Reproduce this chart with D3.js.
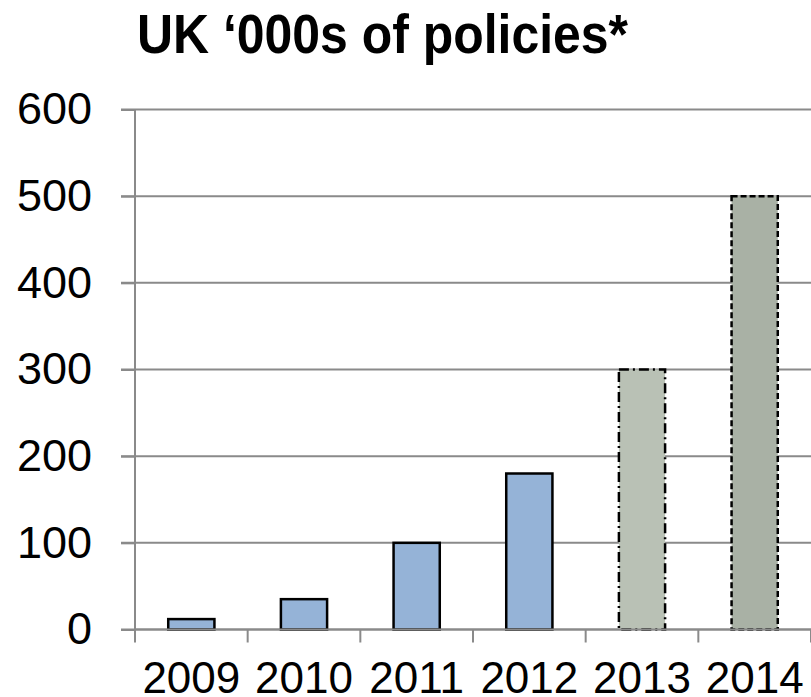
<!DOCTYPE html>
<html><head><meta charset="utf-8">
<script src="https://cdn.jsdelivr.net/npm/d3@7"></script>
<style>body{margin:0;background:#fff}svg{display:block}</style>
</head><body>
<svg id="c" width="811" height="697"></svg>
<script>
const title = "UK \u2018000s of policies*";
const categories = ["2009","2010","2011","2012","2013","2014"];
const values = [12, 35, 100, 180, 300, 500];
const yTicks = [0,100,200,300,400,500,600];
const fills = ["#95b3d7","#95b3d7","#95b3d7","#95b3d7","#b9c1b5","#a9b1a5"];
const dashes = [null,null,null,null,"10,4,2,4","6,3"];

const svg = d3.select("#c");
const pLeft = 135, pRight = 811, pTop = 109.5, pBottom = 629.5;
const x = d3.scaleBand().domain(categories).range([pLeft, pRight]).paddingInner(0.59).paddingOuter(0.295);
const y = d3.scaleLinear().domain([0,600]).range([pBottom, pTop]);
const font = "'Liberation Sans', Arial, sans-serif";
const grey = "#8a8a8a";

// gridlines
svg.append("g").selectAll("line").data(yTicks).join("line")
  .attr("x1", pLeft - 14).attr("x2", pRight)
  .attr("y1", d => y(d)).attr("y2", d => y(d))
  .attr("stroke", grey).attr("stroke-width", 2);

// y axis
const ya = svg.append("g").attr("transform", `translate(${pLeft},0)`)
  .call(d3.axisLeft(y).tickValues(yTicks).tickSize(14).tickPadding(29).tickFormat(d3.format("d")));
ya.select(".domain").attr("stroke", grey).attr("stroke-width", 2).attr("d", `M0,${pTop}V${pBottom}`);
ya.selectAll(".tick line").attr("stroke", grey).attr("stroke-width", 2);
ya.selectAll("text").attr("font-family", font).attr("font-size", 45).attr("fill", "#000");

// bars
svg.append("g").selectAll("rect").data(values).join("rect")
  .attr("x", (d,i) => x(categories[i]))
  .attr("width", x.bandwidth())
  .attr("y", d => y(d))
  .attr("height", d => y(0) - y(d))
  .attr("fill", (d,i) => fills[i])
  .attr("stroke", "#000").attr("stroke-width", 2.5)
  .attr("stroke-dasharray", (d,i) => dashes[i]);

// x axis
const xa = svg.append("g").attr("transform", `translate(0,${pBottom})`)
  .call(d3.axisBottom(x).tickSize(0).tickPadding(32));
xa.select(".domain").remove();
xa.selectAll("text").attr("font-family", font).attr("font-size", 44).attr("fill", "#000");
const step = x.step();
svg.append("g").selectAll("line").data(d3.range(categories.length + 1)).join("line")
  .attr("x1", i => pLeft + i * step).attr("x2", i => pLeft + i * step)
  .attr("y1", pBottom).attr("y2", pBottom + 13)
  .attr("stroke", grey).attr("stroke-width", 2);
svg.append("line").attr("x1", pLeft).attr("x2", pRight).attr("y1", pBottom).attr("y2", pBottom)
  .attr("stroke", grey).attr("stroke-width", 2);

// title
svg.append("text").attr("x", 137).attr("y", 53)
  .attr("font-family", font).attr("font-weight", "bold").attr("font-size", 56)
  .attr("textLength", 491).attr("lengthAdjust", "spacingAndGlyphs").text(title);
</script>
</body></html>
